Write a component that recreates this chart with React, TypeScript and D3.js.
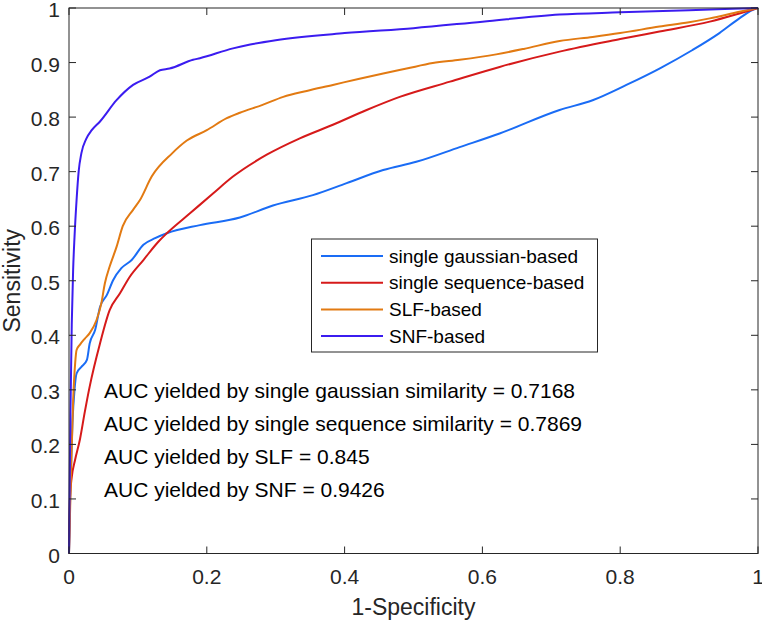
import React from "react";
import * as d3 from "d3";

const gaussX = [0, 0.002, 0.005, 0.008, 0.011, 0.018, 0.026, 0.030, 0.038, 0.045, 0.055, 0.064, 0.076, 0.091, 0.108, 0.125, 0.142, 0.19, 0.248, 0.296, 0.354, 0.403, 0.456, 0.504, 0.567, 0.625, 0.712, 0.760, 0.809, 0.857, 0.905, 0.944, 0.973, 0.997, 1];
const gaussY = [0, 0.12, 0.24, 0.30, 0.33, 0.342, 0.355, 0.385, 0.41, 0.452, 0.474, 0.501, 0.523, 0.538, 0.566, 0.578, 0.587, 0.602, 0.616, 0.638, 0.657, 0.679, 0.703, 0.718, 0.745, 0.770, 0.813, 0.831, 0.859, 0.889, 0.923, 0.954, 0.981, 0.999, 1];

const seqX = [0, 0.0005, 0.0015, 0.004, 0.0087, 0.016, 0.023, 0.030, 0.045, 0.059, 0.074, 0.088, 0.108, 0.130, 0.142, 0.176, 0.209, 0.238, 0.287, 0.335, 0.383, 0.432, 0.480, 0.553, 0.625, 0.712, 0.8, 0.857, 0.93, 0.973, 1];
const seqY = [0, 0.05, 0.104, 0.14, 0.171, 0.21, 0.26, 0.306, 0.385, 0.446, 0.477, 0.507, 0.538, 0.572, 0.587, 0.624, 0.660, 0.691, 0.731, 0.761, 0.786, 0.813, 0.837, 0.865, 0.892, 0.92, 0.943, 0.957, 0.975, 0.99, 1];

const slfX = [0, 0.003, 0.006, 0.009, 0.011, 0.016, 0.023, 0.030, 0.040, 0.047, 0.052, 0.059, 0.069, 0.078, 0.093, 0.103, 0.120, 0.150, 0.171, 0.2, 0.229, 0.248, 0.28, 0.311, 0.345, 0.383, 0.42, 0.456, 0.49, 0.528, 0.567, 0.62, 0.66, 0.712, 0.76, 0.8, 0.857, 0.9, 0.93, 0.973, 1];
const slfY = [0, 0.15, 0.28, 0.35, 0.373, 0.383, 0.394, 0.404, 0.428, 0.459, 0.495, 0.526, 0.562, 0.6, 0.630, 0.648, 0.691, 0.734, 0.757, 0.776, 0.798, 0.808, 0.822, 0.837, 0.848, 0.859, 0.870, 0.880, 0.889, 0.899, 0.905, 0.915, 0.925, 0.9395, 0.947, 0.954, 0.966, 0.974, 0.981, 0.993, 1];

const snfX = [0, 0.002, 0.004, 0.006, 0.008, 0.011, 0.014, 0.018, 0.025, 0.033, 0.045, 0.069, 0.093, 0.117, 0.132, 0.146, 0.180, 0.19, 0.238, 0.263, 0.3, 0.4, 0.5, 0.6, 0.712, 0.8, 0.9, 1];
const snfY = [0, 0.25, 0.42, 0.52, 0.58, 0.648, 0.70, 0.734, 0.760, 0.776, 0.792, 0.831, 0.859, 0.874, 0.886, 0.889, 0.905, 0.908, 0.926, 0.933, 0.941, 0.954, 0.963, 0.975, 0.988, 0.992, 0.996, 1];

const seriesNames = ["single gaussian-based", "single sequence-based", "SLF-based", "SNF-based"];
const seriesColors = ["#1a6cf5", "#d61a1a", "#e27a12", "#3b1cf0"];
const xTicks = [0, 0.2, 0.4, 0.6, 0.8, 1];
const yTicks = [0, 0.1, 0.2, 0.3, 0.4, 0.5, 0.6, 0.7, 0.8, 0.9, 1];
const aucLines = [
  "AUC yielded by single gaussian similarity = 0.7168",
  "AUC yielded by single sequence similarity = 0.7869",
  "AUC yielded by SLF = 0.845",
  "AUC yielded by SNF = 0.9426",
];

const FONT = "'Liberation Sans', Arial, Helvetica, sans-serif";
const AX = "#262626";

export default function App() {
  const L = 69, R = 758, T = 8, B = 553.5;
  const x = d3.scaleLinear().domain([0, 1]).range([L, R]);
  const y = d3.scaleLinear().domain([0, 1]).range([B, T]);
  const data = [
    [gaussX, gaussY],
    [seqX, seqY],
    [slfX, slfY],
    [snfX, snfY],
  ];
  const line = d3
    .line<[number, number]>()
    .x((d) => x(d[0]))
    .y((d) => y(d[1]))
    .curve(d3.curveMonotoneX);
  const tick = 7;

  return (
    <svg
      width={762}
      height={622}
      style={{ position: "absolute", left: 0, top: 0, background: "#fff" }}
      fontFamily={FONT}
    >
      <rect x={0} y={0} width={762} height={622} fill="#fff" />
      {data.map(([xs, ys], i) => (
        <path
          key={i}
          d={line(xs.map((v, j) => [v, ys[j]] as [number, number])) || ""}
          fill="none"
          stroke={seriesColors[i]}
          strokeWidth={2}
          strokeLinejoin="round"
        />
      ))}
      <rect x={L} y={T} width={R - L} height={B - T} fill="none" stroke={AX} strokeWidth={1} />
      {xTicks.map((t) => (
        <g key={"x" + t}>
          <line x1={x(t)} x2={x(t)} y1={B} y2={B - tick} stroke={AX} />
          <line x1={x(t)} x2={x(t)} y1={T} y2={T + tick} stroke={AX} />
          <text x={x(t)} y={584} textAnchor="middle" fontSize={21} fill={AX}>
            {String(t)}
          </text>
        </g>
      ))}
      {yTicks.map((t) => (
        <g key={"y" + t}>
          <line x1={L} x2={L + tick} y1={y(t)} y2={y(t)} stroke={AX} />
          <line x1={R} x2={R - tick} y1={y(t)} y2={y(t)} stroke={AX} />
          <text x={60} y={y(t) + 9} textAnchor="end" fontSize={21} fill={AX}>
            {String(t)}
          </text>
        </g>
      ))}
      <text x={(L + R) / 2} y={615} textAnchor="middle" fontSize={23} fill={AX}>
        1-Specificity
      </text>
      <text
        transform={`translate(19.5, ${(T + B) / 2}) rotate(-90)`}
        textAnchor="middle"
        fontSize={23}
        fill={AX}
      >
        Sensitivity
      </text>
      <rect x={311.5} y={239} width={286} height={113} fill="#fff" stroke={AX} strokeWidth={1} />
      {seriesNames.map((n, i) => {
        const ly = 256 + i * 26.7;
        return (
          <g key={n}>
            <line x1={321} x2={383} y1={ly} y2={ly} stroke={seriesColors[i]} strokeWidth={2} />
            <text x={389} y={ly + 6.5} fontSize={19} fill="#000">
              {n}
            </text>
          </g>
        );
      })}
      {aucLines.map((s, i) => (
        <text key={s} x={104} y={398 + i * 33} fontSize={21} fill="#000">
          {s}
        </text>
      ))}
    </svg>
  );
}
